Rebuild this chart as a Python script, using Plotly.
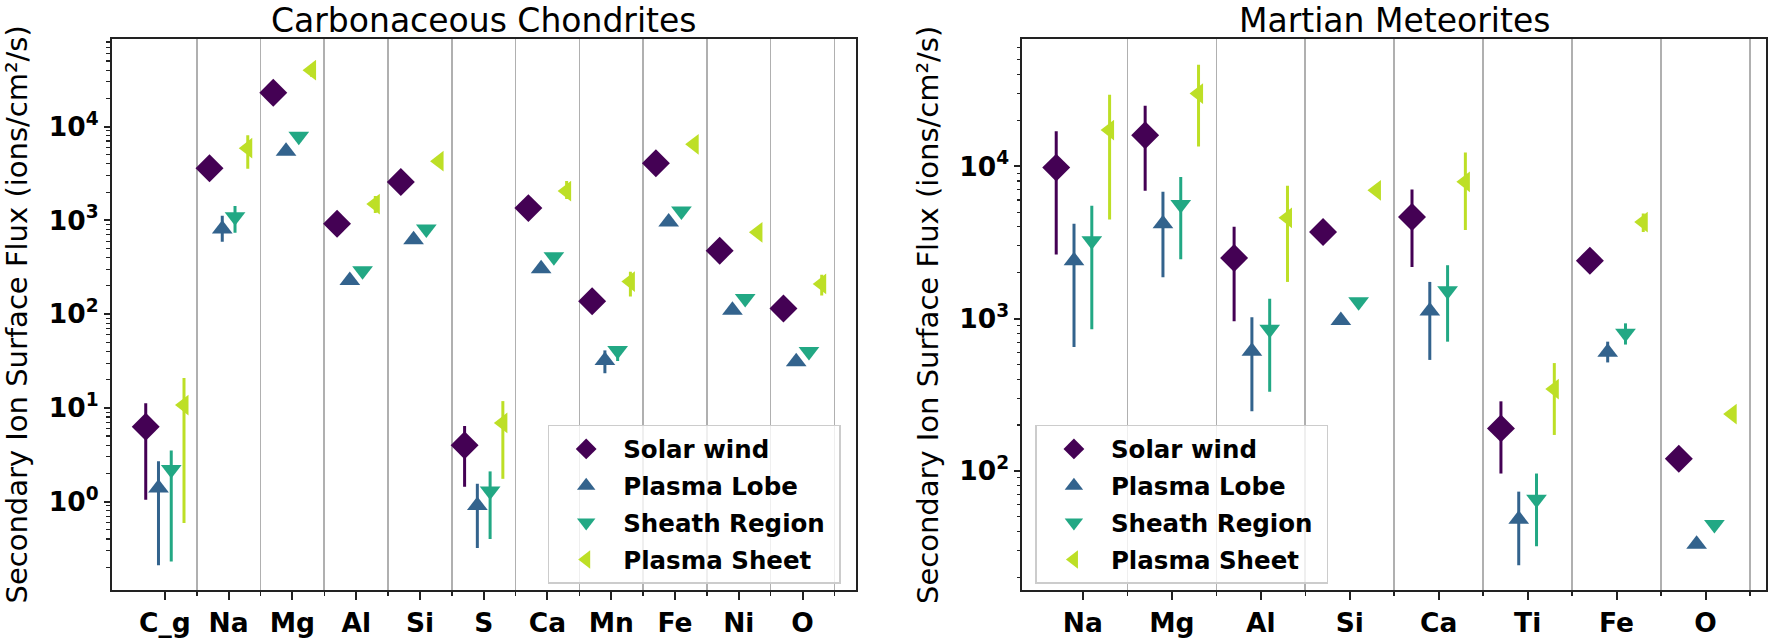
import plotly.graph_objects as go

# ---------------- data ----------------
cc_elements = ["C_g", "Na", "Mg", "Al", "Si", "S", "Ca", "Mn", "Fe", "Ni", "O"]
cc_solar = [6.3, 3600, 23000, 920, 2560, 4.0, 1350, 137, 4070, 475, 115]
cc_solar_hi = [11.2, 3600, 23000, 920, 2560, 6.4, 1350, 137, 4070, 475, 115]
cc_solar_lo = [1.05, 3600, 23000, 920, 2560, 1.44, 1350, 137, 4070, 475, 115]
cc_lobe = [1.4, 810, 5450, 228, 620, 0.91, 305, 32, 960, 110, 31]
cc_lobe_hi = [2.7, 1120, 5450, 228, 620, 1.55, 305, 41, 960, 110, 31]
cc_lobe_lo = [0.21, 590, 5450, 228, 620, 0.32, 305, 23.4, 960, 110, 31]
cc_sheath = [2.2, 1090, 7900, 290, 810, 1.3, 410, 41, 1260, 147, 40]
cc_sheath_hi = [3.5, 1420, 7900, 290, 810, 2.1, 410, 41, 1260, 147, 40]
cc_sheath_lo = [0.23, 735, 7900, 290, 810, 0.40, 410, 31.6, 1260, 147, 40]
cc_sheet = [10.7, 5880, 40000, 1490, 4270, 6.9, 2050, 222, 6470, 745, 210]
cc_sheet_hi = [20.8, 8100, 45700, 1820, 4270, 11.8, 2630, 283, 6470, 745, 263]
cc_sheet_lo = [0.59, 3540, 34000, 1200, 4270, 1.75, 1690, 154, 6470, 745, 158]

mm_elements = ["Na", "Mg", "Al", "Si", "Ca", "Ti", "Fe", "O"]
mm_solar = [9800, 16000, 2500, 3700, 4650, 190, 2400, 120]
mm_solar_hi = [17000, 25000, 4000, 3700, 7050, 286, 2400, 120]
mm_solar_lo = [2630, 6900, 960, 3700, 2180, 96, 2400, 120]
mm_lobe = [2400, 4200, 610, 970, 1120, 48, 600, 33]
mm_lobe_hi = [4200, 6800, 1020, 970, 1740, 73, 705, 33]
mm_lobe_lo = [650, 1870, 246, 970, 535, 24, 515, 33]
mm_sheath = [3240, 5600, 850, 1290, 1520, 65, 800, 44.5]
mm_sheath_hi = [5500, 8500, 1350, 1290, 2240, 96, 930, 44.5]
mm_sheath_lo = [850, 2450, 330, 1290, 705, 32, 675, 44.5]
mm_sheet = [17300, 30000, 4590, 6950, 7900, 344, 4300, 236]
mm_sheet_hi = [29500, 46500, 7450, 6950, 12300, 510, 4900, 236]
mm_sheet_lo = [4470, 13500, 1740, 6950, 3820, 172, 3700, 236]

series_names = ["Solar wind", "Plasma Lobe", "Sheath Region", "Plasma Sheet"]
panel_titles = ["Carbonaceous Chondrites", "Martian Meteorites"]
y_title = "Secondary Ion Surface Flux (ions/cm²/s)"

# ---------------- style ----------------
W, H = 1768, 638
FONT = "DejaVu Sans"
colors = ["#440154", "#33638d", "#22a884", "#bddf26"]
symbols = ["diamond", "triangle-up", "triangle-down", "triangle-left"]
sizes = [21.5, 18, 18, 18]
offsets = [-0.3, -0.1, 0.1, 0.3]
AX = "#222222"
GRID = "#b0b0b0"

fig = go.Figure()


def add_panel(cats, series, xa, ya, leg):
    for k, (val, hi, lo) in enumerate(series):
        xs = [i + offsets[k] for i in range(len(cats))]
        fig.add_trace(go.Scatter(
            x=xs, y=val, mode="markers", name=series_names[k] + "\u00a0",
            marker=dict(symbol=symbols[k], size=sizes[k], color=colors[k],
                        line=dict(width=0)),
            error_y=dict(type="data", symmetric=False,
                         array=[h - v for h, v in zip(hi, val)],
                         arrayminus=[v - l for v, l in zip(val, lo)],
                         color=colors[k], thickness=3, width=0),
            xaxis=xa, yaxis=ya, legend=leg, legendgroup=f"{leg}{k}",
            hoverinfo="skip",
        ))


add_panel(cc_elements,
          [(cc_solar, cc_solar_hi, cc_solar_lo), (cc_lobe, cc_lobe_hi, cc_lobe_lo),
           (cc_sheath, cc_sheath_hi, cc_sheath_lo), (cc_sheet, cc_sheet_hi, cc_sheet_lo)],
          "x", "y", "legend")
add_panel(mm_elements,
          [(mm_solar, mm_solar_hi, mm_solar_lo), (mm_lobe, mm_lobe_hi, mm_lobe_lo),
           (mm_sheath, mm_sheath_hi, mm_sheath_lo), (mm_sheet, mm_sheet_hi, mm_sheet_lo)],
          "x2", "y2", "legend2")


def xaxis_cfg(cats, x0, x1, ya):
    n = len(cats)
    pad = (n - 1 + 0.6) * 0.05
    return dict(
        domain=[x0 / W, x1 / W], range=[-0.3 - pad, n - 1 + 0.3 + pad], anchor=ya,
        tickmode="array", tickvals=list(range(n)), ticktext=cats,
        ticks="outside", ticklen=8, tickwidth=2, tickcolor=AX,
        showgrid=False, zeroline=False,
        showline=True, mirror=True, linecolor=AX, linewidth=2,
        tickfont=dict(family=FONT, size=26.5, color="black", weight="bold"),
        minor=dict(tickmode="array", tickvals=[i + 0.5 for i in range(n)],
                   ticks="outside", ticklen=4, tickwidth=1.5, tickcolor=AX,
                   showgrid=True, gridcolor=GRID, gridwidth=1.6),
    )


def yaxis_cfg(lo, hi, xa):
    exps = list(range(-1, 6))
    majors = [10 ** e for e in exps]
    minors = [m * 10 ** e for e in range(-2, 6) for m in range(2, 10)]
    return dict(
        type="log", domain=[1 - 593 / H, 1 - 39 / H], range=[lo, hi], anchor=xa,
        tickmode="array", tickvals=majors,
        ticktext=[f"10<sup>{e}</sup>" for e in exps],
        ticks="outside", ticklen=6, tickwidth=2, tickcolor=AX,
        showgrid=False, zeroline=False,
        showline=True, mirror=True, linecolor=AX, linewidth=2,
        tickfont=dict(family=FONT, size=26.5, color="black", weight="bold"),
        minor=dict(tickmode="array", tickvals=minors, ticks="outside",
                   ticklen=3.5, tickwidth=1.2, tickcolor=AX, showgrid=False),
    )


legend_common = dict(
    xanchor="left", yanchor="top", bgcolor="rgba(255,255,255,0.8)",
    bordercolor="#cccccc", borderwidth=1.5, tracegroupgap=2,
    font=dict(family=FONT, size=24.5, color="black", weight="bold"),
    itemsizing="trace", itemwidth=64,
)

fig.update_layout(
    width=W, height=H, margin=dict(l=0, r=0, t=0, b=0),
    paper_bgcolor="white", plot_bgcolor="white",
    font=dict(family=FONT, color="black"),
    xaxis=xaxis_cfg(cc_elements, 112, 856, "y"),
    yaxis=yaxis_cfg(-0.945, 4.936, "x"),
    xaxis2=xaxis_cfg(mm_elements, 1023, 1767, "y2"),
    yaxis2=yaxis_cfg(1.216, 4.837, "x2"),
    legend=dict(x=548 / W, y=1 - 427 / H, **legend_common),
    legend2=dict(x=1036 / W, y=1 - 427 / H, **legend_common),
    showlegend=True,
)

annotations = []
for title, cx in zip(panel_titles, [484, 1395]):
    annotations.append(dict(text=title, x=cx / W, y=1.0, xref="paper", yref="paper",
                            xanchor="center", yanchor="top", showarrow=False, borderpad=0,
                            font=dict(family=FONT, size=33, color="black")))
for cx in [17, 928]:
    annotations.append(dict(text=y_title, x=cx / W, y=1 - 316 / H, xref="paper", yref="paper",
                            xanchor="center", yanchor="middle", showarrow=False, textangle=-90,
                            font=dict(family=FONT, size=29, color="black")))
fig.update_layout(annotations=annotations)

fig.write_html(
    "out.html",
    config={"displayModeBar": False, "staticPlot": True},
    post_script="document.body.style.margin='0';document.body.style.padding='0';"
                "document.body.style.overflow='hidden';",
)
